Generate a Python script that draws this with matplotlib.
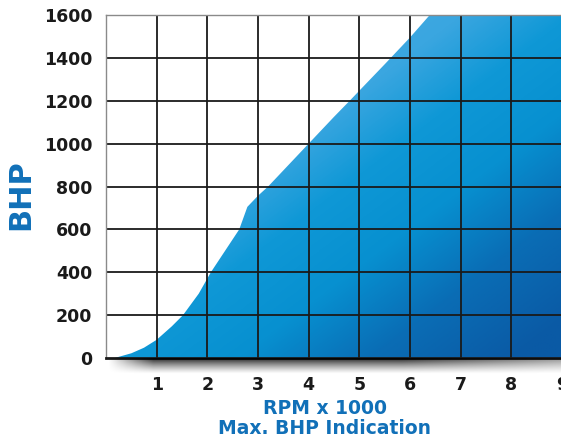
import numpy as np
import matplotlib
matplotlib.use("Agg")
import matplotlib.pyplot as plt
from matplotlib.colors import LinearSegmentedColormap

# Data
rpm = [0.0, 0.17, 0.5, 0.75, 1.0, 1.3, 1.52, 1.83, 2.07, 2.35, 2.63, 2.79,
       3.0, 3.2, 3.5, 4.0, 4.5, 4.81, 5.0, 5.5, 5.62, 6.0, 6.39, 7.0, 8.0, 9.0]
bhp = [0, 0, 22, 48, 85, 148, 200, 300, 400, 500, 600, 705,
       757, 800, 875, 1000, 1125, 1200, 1247, 1370, 1400, 1495, 1600, 1750, 2000, 2250]
x_ticks = [1, 2, 3, 4, 5, 6, 7, 8, 9]
y_ticks = [0, 200, 400, 600, 800, 1000, 1200, 1400, 1600]
x_label_1 = "RPM x 1000"
x_label_2 = "Max. BHP Indication"
y_label = "BHP"

BLUE_TXT = "#1170b8"

fig = plt.figure(figsize=(5.61, 4.37), dpi=100)
W, H = 561, 437
left_px, right_px, top_px, bot_px = 106, 562, 15, 358
ax = fig.add_axes([left_px / W, 1 - bot_px / H, (right_px - left_px) / W, (bot_px - top_px) / H])
ax.set_xlim(0, 9)
ax.set_ylim(0, 1600)

# shadow under x axis
sax = fig.add_axes([108 / W, 1 - 374 / H, (561 - 108) / W, 16 / H], zorder=0)
sax.set_axis_off()
nx, ny = 400, 40
xs = np.linspace(0, 1, nx)
ys = np.linspace(0, 1, ny)
hx = np.clip(xs / 0.1, 0, 1) * (1 - 0.5 * np.clip((xs - 0.65) / 0.35, 0, 1))
vy = ys ** 1.3
alpha = np.outer(vy, hx) * 0.85
rgba = np.zeros((ny, nx, 4))
rgba[..., 3] = alpha
sax.imshow(rgba, aspect="auto", extent=[0, 1, 0, 1], origin="lower")
sax.set_xlim(0, 1); sax.set_ylim(0, 1)

# gradient fill clipped to area
poly = ax.fill_between(rpm, bhp, 0, facecolor="none", edgecolor="none")
gx, gy = np.meshgrid(np.linspace(0, 9, 300), np.linspace(0, 1600, 300))
s = gx / 9 + (1 - gy / 1600)
cmap = LinearSegmentedColormap.from_list("g", [
    (0.0, "#4ab0e6"), (0.3, "#3aa6e0"), (0.45, "#0f98d6"), (0.62, "#0790d0"),
    (0.8, "#0a6db5"), (1.0, "#0a5aa5")])
im = ax.imshow(s, extent=[0, 9, 0, 1600], origin="lower", aspect="auto",
               cmap=cmap, vmin=0.3, vmax=1.9, zorder=1)
im.set_clip_path(poly.get_paths()[0], transform=ax.transData)

# grid
for xv in x_ticks[:-1]:
    ax.axvline(xv, color="#1a1a1a", lw=1.3, zorder=3)
for yv in y_ticks[1:-1]:
    ax.axhline(yv, color="#1a1a1a", lw=1.3, zorder=3)

for sp in ["left", "top"]:
    ax.spines[sp].set_color("#8a8a8a")
    ax.spines[sp].set_linewidth(1.0)
ax.spines["right"].set_visible(False)
ax.spines["bottom"].set_color("#1a1a1a")
ax.spines["bottom"].set_linewidth(2.0)
for sp in ax.spines.values():
    sp.set_zorder(4)

ax.set_xticks(x_ticks)
ax.set_yticks(y_ticks)
ax.set_xticklabels([str(v) for v in x_ticks], fontsize=12.5, fontweight="heavy", color="#1a1a1a")
ax.set_yticklabels([str(v) for v in y_ticks], fontsize=12.5, fontweight="heavy", color="#1a1a1a")
ax.tick_params(axis="both", length=0)
ax.tick_params(axis="y", pad=10)
ax.tick_params(axis="x", pad=13)

fig.text(325 / W, 1 - 408 / H, x_label_1, ha="center", va="center",
         fontsize=13.5, fontweight="heavy", color=BLUE_TXT)
fig.text(324 / W, 1 - 428 / H, x_label_2, ha="center", va="center",
         fontsize=13.5, fontweight="heavy", color=BLUE_TXT)
fig.text(21 / W, 1 - 195 / H, y_label, ha="center", va="center", rotation=90,
         fontsize=22, fontweight="heavy", color=BLUE_TXT)

fig.savefig("out.png", dpi=100)
